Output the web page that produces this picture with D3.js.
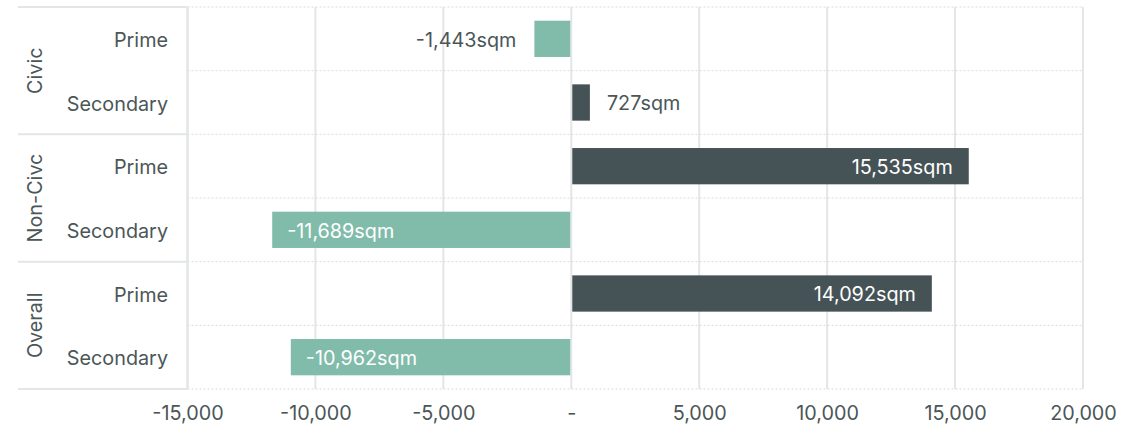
<!DOCTYPE html>
<html>
<head>
<meta charset="utf-8">
<script src="https://cdn.jsdelivr.net/npm/d3@7"></script>
<style>
  body { margin: 0; background: #fff; }
  svg text { font-family: Inter, "Noto Sans", sans-serif; fill: #4b5657; }
</style>
</head>
<body>
<svg id="chart" width="1147" height="429"></svg>
<script>
// Data
const groups = ["Civic", "Non-Civc", "Overall"];
const subCategories = ["Prime", "Secondary"];
const civicValues = [-1443, 727];
const nonCivicValues = [15535, -11689];
const overallValues = [14092, -10962];
const xTicks = [-15000, -10000, -5000, 0, 5000, 10000, 15000, 20000];

const rows = [];
[civicValues, nonCivicValues, overallValues].forEach((vals, gi) => {
    vals.forEach((v, si) => {
        rows.push({ group: groups[gi], sub: subCategories[si], key: groups[gi] + "|" + subCategories[si], value: v });
    });
});

const svg = d3.select("#chart");
const plotLeft = 187.5, plotRight = 1083, plotTop = 7, plotBottom = 389;
const fontSize = 19.8;

const x = d3.scaleLinear().domain([-15000, 20000]).range([plotLeft, plotRight]);
const y = d3.scaleBand().domain(rows.map(d => d.key)).range([plotTop, plotBottom]).paddingInner(0.43).paddingOuter(0.215);
const rowH = (plotBottom - plotTop) / rows.length;

const posColor = "#455357";
const negColor = "#81bcab";
const gridColor = "#e3e6e6";

// vertical gridlines
svg.append("g").selectAll("line").data(xTicks).join("line")
    .attr("x1", d => x(d)).attr("x2", d => x(d))
    .attr("y1", plotTop).attr("y2", plotBottom)
    .attr("stroke", gridColor).attr("stroke-width", 2);

// dotted row lines in plot area
const rowLines = d3.range(rows.length + 1).map(i => plotTop + i * rowH);
svg.append("g").selectAll("line").data(rowLines).join("line")
    .attr("x1", plotLeft).attr("x2", plotRight)
    .attr("y1", d => d).attr("y2", d => d)
    .attr("stroke", "#d8dcdc").attr("stroke-width", 1)
    .attr("stroke-dasharray", "2,2");

// group separators on the left side
const groupLines = d3.range(groups.length + 1).map(i => plotTop + i * 2 * rowH);
svg.append("g").selectAll("line").data(groupLines).join("line")
    .attr("x1", 18).attr("x2", plotLeft)
    .attr("y1", d => d).attr("y2", d => d)
    .attr("stroke", gridColor).attr("stroke-width", 2);
svg.append("line")
    .attr("x1", plotLeft).attr("x2", plotLeft).attr("y1", plotTop).attr("y2", plotBottom)
    .attr("stroke", gridColor).attr("stroke-width", 2);

// bars
svg.append("g").selectAll("rect").data(rows).join("rect")
    .attr("x", d => d.value < 0 ? x(d.value) : x(0) + 1)
    .attr("width", d => Math.abs(x(d.value) - x(0)) - 1)
    .attr("y", d => y(d.key))
    .attr("height", y.bandwidth())
    .attr("fill", d => d.value < 0 ? negColor : posColor);

// number format with a plain hyphen for negatives
const fmt = d3.formatLocale({ decimal: ".", thousands: ",", grouping: [3], currency: ["", ""], minus: "-" }).format(",");

// bar labels
svg.append("g").selectAll("text").data(rows).join("text")
    .each(function(d) {
        const w = Math.abs(x(d.value) - x(0));
        const inside = w > 150;
        const t = d3.select(this);
        let tx, anchor;
        if (d.value >= 0) {
            tx = inside ? x(d.value) - 16 : x(d.value) + 17;
            anchor = inside ? "end" : "start";
        } else {
            tx = inside ? x(d.value) + 15 : x(d.value) - 18;
            anchor = inside ? "start" : "end";
        }
        t.attr("x", tx).attr("text-anchor", anchor)
            .style("fill", inside ? "#ffffff" : "#4b5657");
    })
    .attr("y", d => y(d.key) + y.bandwidth() / 2)
    .attr("dy", "0.4em")
    .attr("font-size", fontSize)
    .text(d => fmt(d.value) + "sqm");

// row labels
svg.append("g").selectAll("text").data(rows).join("text")
    .attr("x", 168)
    .attr("y", d => y(d.key) + y.bandwidth() / 2)
    .attr("dy", "0.42em")
    .attr("text-anchor", "end")
    .attr("font-size", fontSize)
    .text(d => d.sub);

// group labels
svg.append("g").selectAll("text").data(groups).join("text")
    .attr("transform", (d, i) => `translate(42,${plotTop + (i * 2 + 1) * rowH}) rotate(-90)`)
    .attr("text-anchor", "middle")
    .attr("font-size", fontSize)
    .text(d => d);

// x axis
const xAxis = d3.axisBottom(x).tickValues(xTicks)
    .tickFormat(d => d === 0 ? "-" : fmt(d)).tickSize(0).tickPadding(0);
const gx = svg.append("g").attr("transform", `translate(0,${plotBottom})`).call(xAxis);
gx.select(".domain").remove();
gx.selectAll("text").attr("font-size", fontSize).attr("dy", "1.55em").style("font-family", "Inter, 'Noto Sans', sans-serif").style("fill", "#4b5657");
</script>
</body>
</html>
